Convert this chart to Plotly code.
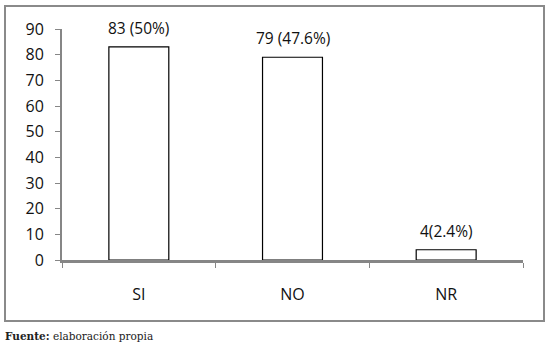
import plotly.graph_objects as go

categories = ["SI", "NO", "NR"]
values = [83, 79, 4]
labels = ["83 (50%)", "79 (47.6%)", "4(2.4%)"]
y_ticks = [0, 10, 20, 30, 40, 50, 60, 70, 80, 90]

W, H = 547, 344
L, R, T, B = 62, 24, 29, 84
pw, ph = W - L - R, H - T - B

fig = go.Figure()
fig.add_trace(go.Bar(
    x=categories, y=values, width=0.39,
    marker=dict(color="white", line=dict(color="black", width=1.2)),
    hoverinfo="skip",
))

for c, v, t in zip(categories, values, labels):
    fig.add_annotation(x=c, y=v, text=t, showarrow=False, yanchor="bottom",
                       yshift=6, font=dict(family="Open Sans, Liberation Sans, sans-serif",
                                           size=15.5, color="#111"))

def px_to_paper_x(px):
    return (px - L) / pw

def px_to_paper_y(py):
    return (H - B - py) / ph

fig.add_shape(type="rect", xref="paper", yref="paper",
              x0=px_to_paper_x(5), x1=px_to_paper_x(544),
              y0=px_to_paper_y(321), y1=px_to_paper_y(6),
              line=dict(color="#8a8a8a", width=2), layer="below")

fig.add_annotation(xref="paper", yref="paper", x=px_to_paper_x(3), y=px_to_paper_y(336),
                   xanchor="left", yanchor="middle", showarrow=False,
                   text="<b>Fuente:</b> elaboración propia",
                   font=dict(family="DejaVu Serif, Liberation Serif, serif", size=10.5, color="#222"))

fig.update_layout(
    width=W, height=H,
    margin=dict(l=L, r=R, t=T, b=B),
    paper_bgcolor="white", plot_bgcolor="white",
    showlegend=False,
    font=dict(family="Open Sans, Liberation Sans, sans-serif", size=15, color="#111"),
)
fig.update_xaxes(
    type="category", showgrid=False, showline=True, linecolor="#868686", linewidth=2.5,
    ticks="outside", tickson="boundaries", ticklen=5, tickcolor="#868686", tickwidth=1,
    ticklabelstandoff=18, tickfont=dict(size=16), range=[-0.5, 2.5], layer="above traces",
)
fig.update_yaxes(
    range=[0, 90], tickvals=y_ticks, showgrid=False, zeroline=False,
    showline=True, linecolor="#868686", linewidth=2,
    ticks="outside", ticklen=5, tickcolor="#868686", tickwidth=1,
    ticklabelstandoff=8, tickfont=dict(size=16),
)

fig.write_html("out.html", config={"displayModeBar": False},
               post_script="document.body.style.margin='0';document.body.style.padding='0';")
